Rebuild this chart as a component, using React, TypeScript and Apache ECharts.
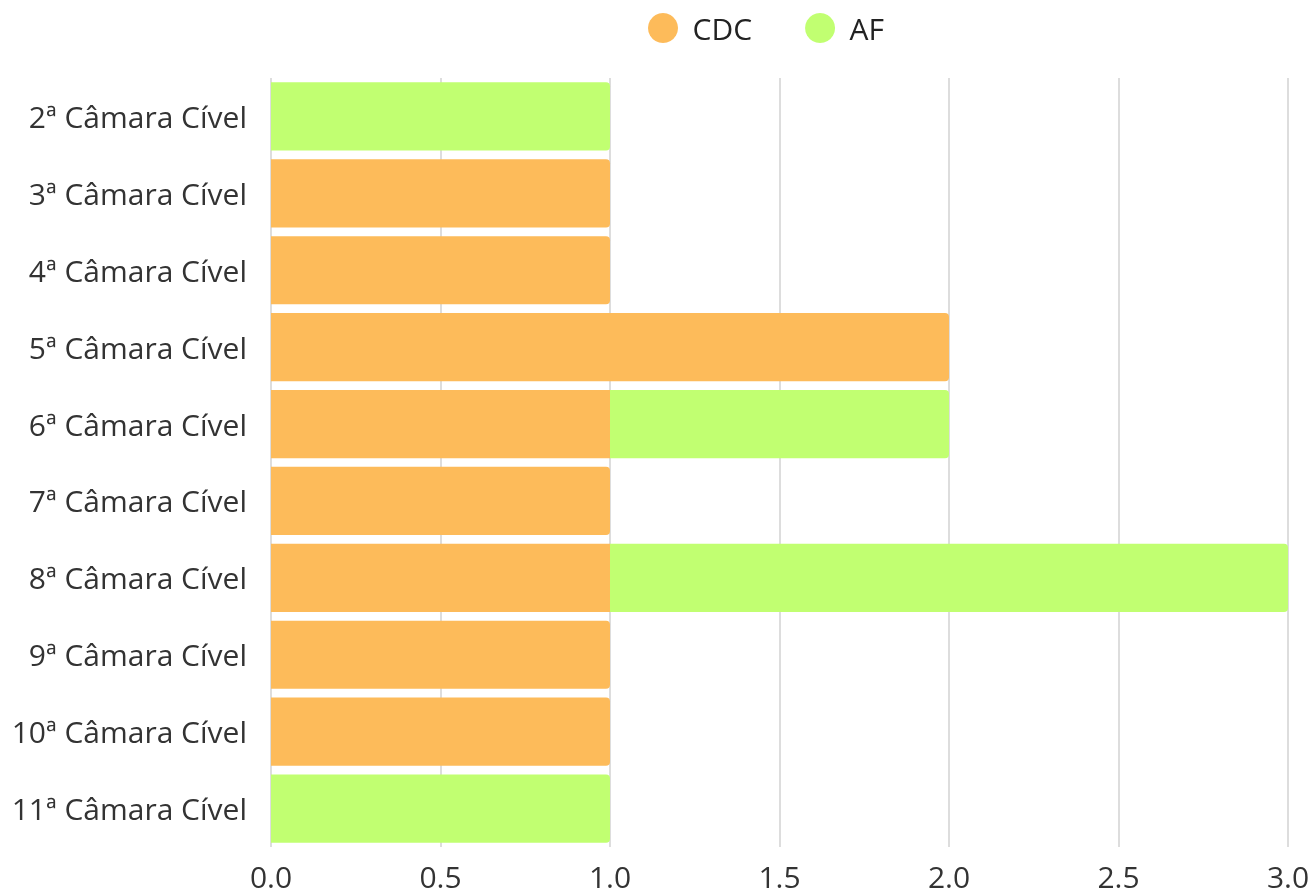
import React, { useEffect, useRef } from "react";
import * as echarts from "echarts";

const categories = [
  "2ª Câmara Cível",
  "3ª Câmara Cível",
  "4ª Câmara Cível",
  "5ª Câmara Cível",
  "6ª Câmara Cível",
  "7ª Câmara Cível",
  "8ª Câmara Cível",
  "9ª Câmara Cível",
  "10ª Câmara Cível",
  "11ª Câmara Cível",
];
const cdcValues = [0, 1, 1, 2, 1, 1, 1, 1, 1, 0];
const afValues = [1, 0, 0, 0, 1, 0, 2, 0, 0, 1];
const seriesNames = ["CDC", "AF"];
const colors = ["#fdbb5a", "#c1ff71"];

function buildData(values: number[], isTop: (i: number) => boolean) {
  return values.map((v, i) =>
    v === 0
      ? null
      : {
          value: v,
          itemStyle: { borderRadius: isTop(i) ? [0, 4, 4, 0] : 0 },
        }
  );
}

export default function App() {
  const ref = useRef<HTMLDivElement>(null);
  useEffect(() => {
    if (!ref.current) return;
    const chart = echarts.init(ref.current, undefined, { renderer: "svg" });
    const font = "Open Sans";
    chart.setOption({
      animation: false,
      color: colors,
      textStyle: { fontFamily: font },
      legend: {
        top: 8,
        left: 643,
        icon: "circle",
        itemWidth: 49,
        itemHeight: 30,
        itemGap: 53,
        textStyle: { fontSize: 30, color: "#222", fontFamily: font },
        data: seriesNames,
      },
      grid: { left: 271, right: 26, top: 78, bottom: 41, containLabel: false },
      xAxis: {
        type: "value",
        min: 0,
        max: 3,
        interval: 0.5,
        axisLine: { show: false },
        axisTick: { show: false },
        axisLabel: {
          fontSize: 30,
          color: "#333",
          margin: 14,
          fontFamily: font,
          formatter: (v: number) => v.toFixed(1),
        },
        splitLine: { show: true, lineStyle: { color: "#dddddd", width: 2 } },
      },
      yAxis: {
        type: "category",
        data: categories,
        inverse: true,
        axisLine: { show: false },
        axisTick: { show: false },
        axisLabel: { fontSize: 30, color: "#333", margin: 24, fontFamily: font },
        splitLine: { show: false },
      },
      series: [
        {
          name: seriesNames[0],
          type: "bar",
          stack: "total",
          barCategoryGap: "11.3%",
          data: buildData(cdcValues, (i) => afValues[i] === 0),
        },
        {
          name: seriesNames[1],
          type: "bar",
          stack: "total",
          barCategoryGap: "11.3%",
          data: buildData(afValues, () => true),
        },
      ],
    });
    return () => chart.dispose();
  }, []);
  return (
    <div
      ref={ref}
      style={{ position: "fixed", left: 0, top: 0, width: 1314, height: 891 }}
    />
  );
}
